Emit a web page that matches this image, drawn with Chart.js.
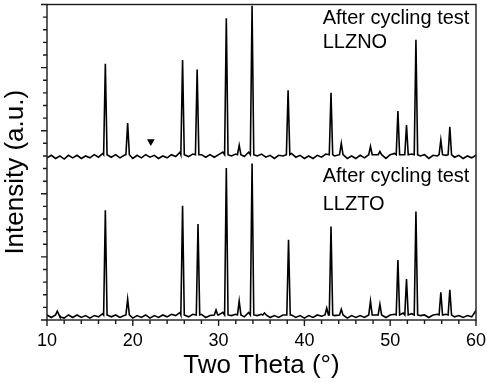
<!DOCTYPE html>
<html>
<head>
<meta charset="utf-8">
<script src="https://cdn.jsdelivr.net/npm/chart.js@4/dist/chart.umd.min.js"></script>
<style>
  html, body { margin: 0; padding: 0; background: #fff; }
  #wrap { width: 487px; height: 382px; }
</style>
</head>
<body>
<div id="wrap"><canvas id="canvas" width="487" height="382"></canvas></div>
<script>
// baseline samples (two theta, degrees)
const baseTheta = [10, 10.5, 11, 11.5, 12, 12.5, 13, 13.5, 14, 14.5, 15, 15.5, 16, 16.5, 17, 17.5, 18, 18.5, 19, 19.5,
    20, 20.5, 21, 21.5, 22, 22.5, 23, 23.5, 24, 24.5, 25, 25.5, 26, 26.5, 27, 27.5, 28, 28.5, 29, 29.5,
    30, 30.5, 31, 31.5, 32, 32.5, 33, 33.5, 34, 34.5, 35, 35.5, 36, 36.5, 37, 37.5, 38, 38.5, 39, 39.5,
    40, 40.5, 41, 41.5, 42, 42.5, 43, 43.5, 44, 44.5, 45, 45.5, 46, 46.5, 47, 47.5, 48, 48.5, 49, 49.5,
    50, 50.5, 51, 51.5, 52, 52.5, 53, 53.5, 54, 54.5, 55, 55.5, 56, 56.5, 57, 57.5, 58, 58.5, 59, 59.5, 60];

// LLZNO (upper trace)
const llznoBase = [2.57, 2.61, 2.56, 2.60, 2.55, 2.61, 2.57, 2.61, 2.56, 2.60, 2.57, 2.62, 2.58, 2.64, 2.64, 2.58, 2.62, 2.57, 2.61, 2.62,
    2.56, 2.61, 2.57, 2.62, 2.58, 2.61, 2.56, 2.60, 2.57, 2.62, 2.59, 2.66, 2.64, 2.59, 2.63, 2.66, 2.62, 2.58, 2.62, 2.58,
    2.62, 2.66, 2.68, 2.60, 2.63, 2.62, 2.59, 2.66, 2.70, 2.60, 2.63, 2.58, 2.61, 2.56, 2.61, 2.60, 2.66, 2.64, 2.58, 2.61,
    2.56, 2.60, 2.56, 2.61, 2.58, 2.63, 2.66, 2.60, 2.63, 2.62, 2.56, 2.60, 2.56, 2.61, 2.57, 2.62, 2.58, 2.62, 2.59, 2.56,
    2.62, 2.64, 2.66, 2.62, 2.66, 2.63, 2.68, 2.60, 2.62, 2.56, 2.61, 2.60, 2.64, 2.61, 2.64, 2.58, 2.61, 2.56, 2.60, 2.57, 2.61];
const llznoPeakTheta = [16.8, 19.4, 25.8, 27.5, 30.9, 32.4, 33.9, 38.1, 43.1, 44.3, 47.7, 48.8, 50.9, 51.9, 53.0, 55.9, 56.95];
const llznoPeakHeight = [4.06, 3.12, 4.12, 3.97, 4.78, 2.77, 4.98, 3.64, 3.60, 2.80, 2.75, 2.67, 3.31, 3.09, 4.44, 2.85, 3.06];
const llznoFoot = 2.62;

// LLZTO (lower trace)
const llztoBase = [0.08, 0.04, 0.09, 0.05, 0.03, 0.08, 0.04, 0.08, 0.04, 0.07, 0.03, 0.07, 0.05, 0.10, 0.09, 0.05, 0.08, 0.04, 0.07, 0.08,
    0.03, 0.07, 0.04, 0.08, 0.03, 0.07, 0.04, 0.08, 0.05, 0.09, 0.07, 0.12, 0.10, 0.05, 0.09, 0.12, 0.09, 0.04, 0.07, 0.05,
    0.08, 0.12, 0.14, 0.07, 0.09, 0.08, 0.05, 0.12, 0.15, 0.07, 0.09, 0.08, 0.04, 0.07, 0.04, 0.08, 0.10, 0.08, 0.04, 0.07,
    0.03, 0.07, 0.04, 0.08, 0.06, 0.14, 0.14, 0.07, 0.09, 0.08, 0.03, 0.07, 0.04, 0.07, 0.04, 0.08, 0.05, 0.08, 0.05, 0.04,
    0.08, 0.09, 0.10, 0.11, 0.12, 0.10, 0.14, 0.07, 0.08, 0.04, 0.08, 0.09, 0.10, 0.09, 0.09, 0.05, 0.07, 0.04, 0.07, 0.05, 0.15];
const llztoPeakTheta = [11.2, 16.8, 19.4, 25.8, 27.6, 29.7, 30.9, 32.4, 33.9, 35.35, 38.15, 42.6, 43.1, 44.3, 47.7, 48.8, 50.9, 51.9, 53.0, 55.9, 56.95];
const llztoPeakHeight = [0.14, 1.74, 0.33, 1.81, 1.52, 0.16, 2.41, 0.30, 2.48, 0.11, 1.27, 0.19, 1.48, 0.17, 0.30, 0.25, 0.95, 0.65, 1.72, 0.44, 0.48];
const llztoFoot = 0.08;

// marked impurity reflection
const markerTheta = [22.1];
const markerValue = [2.83];

const xTickLabels = ['10', '20', '30', '40', '50', '60'];

const FONT = "'Liberation Sans', Arial, sans-serif";
const FOOT_HALF = 0.2;

function buildTrace(base, peakTheta, peakHeight, foot) {
    var pts = [];
    baseTheta.forEach((t, i) => {
        var near = peakTheta.some(p => Math.abs(p - t) <= FOOT_HALF + 0.1);
        if (!near) pts.push({ x: t, y: base[i] });
    });
    peakTheta.forEach((p, i) => {
        pts.push({ x: p - FOOT_HALF, y: foot });
        pts.push({ x: p, y: peakHeight[i] });
        pts.push({ x: p + FOOT_HALF, y: foot });
    });
    pts.sort((a, b) => a.x - b.x);
    return pts;
}

// frame and major/minor tick marks
const framePlugin = {
    id: 'frame',
    afterDraw(chart) {
        const ctx = chart.ctx;
        const a = chart.chartArea;
        const xs = chart.scales.x;
        const ys = chart.scales.y;
        ctx.save();
        ctx.strokeStyle = '#1a1a1a';
        ctx.lineWidth = 1.4;
        ctx.strokeRect(a.left, a.top, a.right - a.left, a.bottom - a.top);
        ctx.beginPath();
        xs.ticks.forEach(t => {
            const px = xs.getPixelForValue(t.value);
            const major = Math.abs(t.value % 10) < 1e-6;
            ctx.moveTo(px, a.bottom);
            ctx.lineTo(px, a.bottom + (major ? 6 : 4));
        });
        ys.ticks.forEach(t => {
            const py = ys.getPixelForValue(t.value);
            const major = Math.abs(t.value - Math.round(t.value)) < 1e-6;
            ctx.moveTo(a.left, py);
            ctx.lineTo(a.left - (major ? 6 : 4), py);
        });
        ctx.stroke();

        // y axis title, sits a little below the plot centre in the original
        ctx.fillStyle = '#000';
        ctx.font = '26px ' + FONT;
        ctx.textAlign = 'center';
        ctx.textBaseline = 'alphabetic';
        ctx.translate(23, (a.top + a.bottom) / 2 + 10);
        ctx.rotate(-Math.PI / 2);
        ctx.fillText('Intensity (a.u.)', 0, 0);
        ctx.restore();
    }
};

// sample captions
const captionPlugin = {
    id: 'captions',
    afterDraw(chart) {
        const ctx = chart.ctx;
        const xs = chart.scales.x;
        const ys = chart.scales.y;
        const lines = [
            ['After cycling test', 42.13, 4.685],
            ['LLZNO', 42.13, 4.31],
            ['After cycling test', 42.13, 2.185],
            ['LLZTO', 42.13, 1.745]
        ];
        ctx.save();
        ctx.fillStyle = '#000';
        ctx.font = '20px ' + FONT;
        ctx.textAlign = 'left';
        ctx.textBaseline = 'alphabetic';
        lines.forEach(l => ctx.fillText(l[0], xs.getPixelForValue(l[1]), ys.getPixelForValue(l[2])));
        ctx.restore();
    }
};

function renderChart() {
    var ctx = document.getElementById('canvas').getContext('2d');
    new Chart(ctx, {
        type: 'line',
        data: {
            datasets: [{
                label: 'LLZNO',
                data: buildTrace(llznoBase, llznoPeakTheta, llznoPeakHeight, llznoFoot),
                borderColor: '#000',
                borderWidth: 1.6,
                pointRadius: 0,
                tension: 0
            }, {
                label: 'LLZTO',
                data: buildTrace(llztoBase, llztoPeakTheta, llztoPeakHeight, llztoFoot),
                borderColor: '#000',
                borderWidth: 1.6,
                pointRadius: 0,
                tension: 0
            }, {
                label: 'marker',
                data: markerTheta.map((t, i) => ({ x: t, y: markerValue[i] })),
                showLine: false,
                pointStyle: 'triangle',
                rotation: 180,
                pointRadius: 4.5,
                backgroundColor: '#000',
                borderColor: '#000',
                borderWidth: 0
            }]
        },
        options: {
            responsive: false,
            animation: false,
            layout: { padding: { top: 1, right: 0, left: 0, bottom: 0 } },
            plugins: { legend: { display: false }, tooltip: { enabled: false } },
            scales: {
                x: {
                    type: 'linear',
                    min: 10,
                    max: 60,
                    grid: { display: false, drawTicks: false },
                    border: { display: false },
                    ticks: {
                        stepSize: 2,
                        autoSkip: false,
                        maxRotation: 0,
                        padding: 10,
                        color: '#000',
                        font: { family: FONT, size: 18 },
                        callback: v => (v % 10 === 0 ? xTickLabels[(v - 10) / 10] : '')
                    },
                    title: {
                        display: true,
                        text: 'Two Theta (°)',
                        color: '#000',
                        font: { family: FONT, size: 26 },
                        padding: { top: 0, bottom: 1 }
                    },
                    afterFit: s => { s.height = 62; s.paddingRight = 11; s.paddingLeft = 0; }
                },
                y: {
                    min: 0,
                    max: 5,
                    grid: { display: false, drawTicks: false },
                    border: { display: false },
                    ticks: { display: false, stepSize: 0.2 },
                    title: { display: false },
                    afterFit: s => { s.width = 47; }
                }
            }
        },
        plugins: [framePlugin, captionPlugin]
    });
}

renderChart();
</script>
</body>
</html>
